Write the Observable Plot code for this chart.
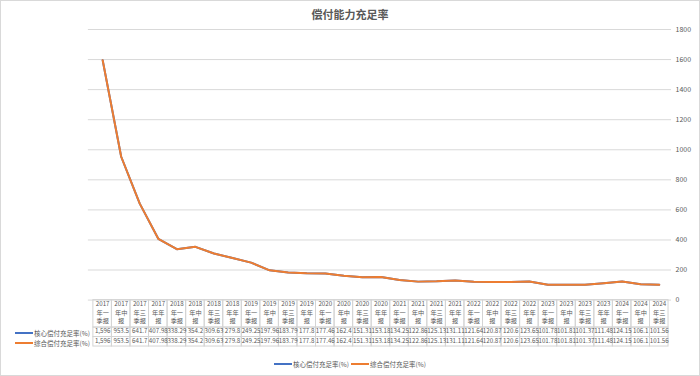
<!DOCTYPE html>
<html><head><meta charset="utf-8">
<script src="https://cdn.jsdelivr.net/npm/d3@7"></script>
<script src="https://cdn.jsdelivr.net/npm/@observablehq/plot@0.6"></script>
<style>
html,body{margin:0;padding:0;background:#fff;}
#chart{position:relative;width:700px;height:376px;box-sizing:border-box;border:1px solid #d9d9d9;font-family:"Noto Sans CJK SC",sans-serif;overflow:hidden;background:#fff;}
#title{position:absolute;left:-1px;top:5px;width:700px;text-align:center;font-size:11px;font-weight:bold;line-height:16px;color:#595959;}
#plot{position:absolute;left:-1px;top:19px;}
.rowkey{position:absolute;left:14px;height:10px;font-size:6.5px;line-height:10px;color:#595959;white-space:nowrap;display:flex;align-items:center;}
.sw{display:inline-block;width:18px;height:2px;margin-right:1px;}
#legend{position:absolute;left:-1px;top:357px;width:700px;display:flex;justify-content:center;align-items:center;font-size:6.5px;color:#595959;height:12px;}
#legend .item{display:flex;align-items:center;margin:0 1px;}
</style></head>
<body>
<div id="chart">
  <div id="title"></div>
  <div id="plot"></div>
  <div id="keys"></div>
  <div id="legend"></div>
</div>
<script>
const title = "偿付能力充足率";
const categories = [
  "2017年一季报","2017年中报","2017年三季报","2017年年报",
  "2018年一季报","2018年中报","2018年三季报","2018年年报",
  "2019年一季报","2019年中报","2019年三季报","2019年年报",
  "2020年一季报","2020年中报","2020年三季报","2020年年报",
  "2021年一季报","2021年中报","2021年三季报","2021年年报",
  "2022年一季报","2022年中报","2022年三季报","2022年年报",
  "2023年一季报","2023年中报","2023年三季报","2023年年报",
  "2024年一季报","2024年中报","2024年三季报"
];
const coreRatio = [1596, 953.5, 641.7, 407.98, 338.29, 354.2, 309.63, 279.8, 249.25, 197.96, 183.79, 177.8, 177.46, 162.4, 151.31, 153.18, 134.25, 122.86, 125.13, 131.11, 121.64, 120.87, 120.6, 123.65, 101.78, 101.81, 101.37, 111.48, 124.15, 106.1, 101.56];
const totalRatio = [1596, 953.5, 641.7, 407.98, 338.29, 354.2, 309.63, 279.8, 249.25, 197.96, 183.79, 177.8, 177.46, 162.4, 151.31, 153.18, 134.25, 122.86, 125.13, 131.11, 121.64, 120.87, 120.6, 123.65, 101.78, 101.81, 101.37, 111.48, 124.15, 106.1, 101.56];
const seriesNames = ["核心偿付充足率(%)", "综合偿付充足率(%)"];
const seriesColors = ["#4472C4", "#ED7D31"];
const yTicks = [0, 200, 400, 600, 800, 1000, 1200, 1400, 1600, 1800];

const idx = d3.range(categories.length);
const fmt = d3.format(",");
const font = '"Noto Sans CJK SC", sans-serif';
const gridColor = "#d9d9d9";
const tableColor = "#d4d4d4";
const textColor = "#595959";
const tFont = 6.2;

document.getElementById("title").textContent = title;

// header lines of the data table: year / "年" + period char / rest
const headerParts = [d => d.slice(0, 4), d => d.slice(4, 6), d => d.slice(6)];
const headerDy = [6.2, 14.5, 22.8];

const plot = Plot.plot({
  width: 700,
  height: 336,
  marginTop: 9,
  marginBottom: 56,
  marginLeft: 88,
  marginRight: 28,
  style: {fontFamily: font, background: "transparent", overflow: "visible", color: textColor},
  x: {domain: categories, padding: 0, round: false, insetLeft: 5, insetRight: 3, axis: null},
  y: {domain: [0, 1800], axis: null},
  marks: [
    Plot.gridY(yTicks, {stroke: gridColor, strokeOpacity: 1}),
    Plot.axisY(yTicks, {anchor: "right", tickSize: 0, tickPadding: 4, fontSize: 7, fill: textColor, label: null, tickFormat: d => String(d)}),
    // table grid
    Plot.cell(categories, {x: d => d, fill: "none", stroke: tableColor, insetTop: 271, insetBottom: -27.5}),
    Plot.cell(categories, {x: d => d, fill: "none", stroke: tableColor, insetTop: 298.5, insetBottom: -37}),
    Plot.cell(categories, {x: d => d, fill: "none", stroke: tableColor, insetTop: 308, insetBottom: -46.5}),
    // table header (three lines)
    ...headerParts.map((part, k) =>
      Plot.text(categories, {x: d => d, text: part, frameAnchor: "bottom", dy: headerDy[k], fontSize: tFont, fill: textColor})),
    // table rows
    Plot.text(idx, {x: i => categories[i], text: i => fmt(coreRatio[i]), frameAnchor: "bottom", dy: 33, fontSize: tFont, fill: textColor}),
    Plot.text(idx, {x: i => categories[i], text: i => fmt(totalRatio[i]), frameAnchor: "bottom", dy: 42.5, fontSize: tFont, fill: textColor}),
    // lines
    Plot.lineY(idx, {x: i => categories[i], y: i => coreRatio[i], stroke: seriesColors[0], strokeWidth: 2}),
    Plot.lineY(idx, {x: i => categories[i], y: i => totalRatio[i], stroke: seriesColors[1], strokeWidth: 2})
  ]
});
document.getElementById("plot").appendChild(plot);

// row keys of the data table
const keys = document.getElementById("keys");
seriesNames.forEach((name, k) => {
  const div = document.createElement("div");
  div.className = "rowkey";
  div.style.top = (327 + k * 9.5) + "px";
  div.innerHTML = `<span class="sw" style="background:${seriesColors[k]}"></span><span></span>`;
  div.lastChild.textContent = name;
  keys.appendChild(div);
});

// bottom legend
const legend = document.getElementById("legend");
seriesNames.forEach((name, k) => {
  const it = document.createElement("div");
  it.className = "item";
  it.innerHTML = `<span class="sw" style="background:${seriesColors[k]}"></span><span></span>`;
  it.lastChild.textContent = name;
  legend.appendChild(it);
});
</script>
</body></html>
